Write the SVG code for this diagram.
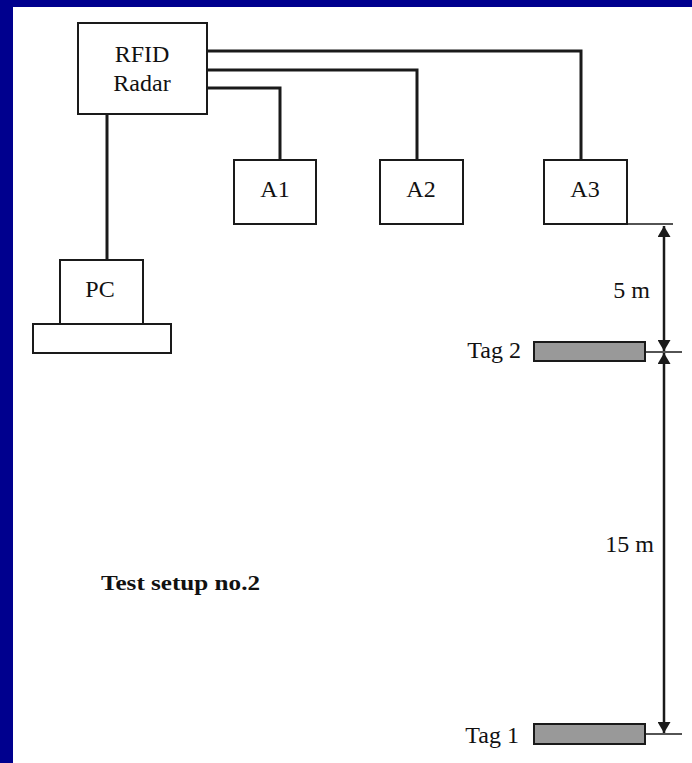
<svg xmlns="http://www.w3.org/2000/svg" width="692" height="763" viewBox="0 0 692 763">
<style>
.box{fill:#fff;stroke:#1a1a1a;stroke-width:2}
.tag{fill:#999;stroke:#1a1a1a;stroke-width:2}
.wire{fill:none;stroke:#1a1a1a;stroke-width:3}
.dim{fill:none;stroke:#1a1a1a;stroke-width:2.5}
.ext{fill:none;stroke:#1a1a1a;stroke-width:1.5}
.t{font-family:"Liberation Serif","Times New Roman",serif;font-size:24px;fill:#111}
.c{text-anchor:middle}
.e{text-anchor:end}
.b{font-weight:bold;font-size:22px}
</style>
<defs>
<marker id="ah" markerUnits="userSpaceOnUse" markerWidth="11" markerHeight="13" refX="11" refY="6.5" orient="auto-start-reverse">
<path d="M0,0 L11,6.5 L0,13 z" fill="#1a1a1a"/>
</marker>
</defs>
<rect x="0" y="0" width="692" height="763" fill="#00008E"/>
<rect x="13" y="7" width="679" height="756" fill="#fff"/>
<g id="connectors">
<path class="wire" d="M207,51 H581 V160"/>
<path class="wire" d="M207,70 H417 V160"/>
<path class="wire" d="M207,88 H280 V160"/>
<path class="wire" d="M107,114 V260"/>
<path class="ext" d="M627,224 H673"/>
<path class="ext" d="M645,352 H682"/>
<path class="ext" d="M645,734 H682"/>
<path class="dim" d="M664,226 V351" marker-start="url(#ah)" marker-end="url(#ah)"/>
<path class="dim" d="M664,353 V733" marker-start="url(#ah)" marker-end="url(#ah)"/>
</g>
<g id="rfid">
<rect class="box" x="78" y="23" width="129" height="91"/>
<text class="t c" x="142" y="62">RFID</text>
<text class="t c" x="142" y="91">Radar</text>
</g>
<g id="a1">
<rect class="box" x="234" y="160" width="82" height="64"/>
<text class="t c" x="275" y="197">A1</text>
</g>
<g id="a2">
<rect class="box" x="380" y="160" width="83" height="64"/>
<text class="t c" x="421" y="197">A2</text>
</g>
<g id="a3">
<rect class="box" x="544" y="160" width="83" height="64"/>
<text class="t c" x="585" y="197">A3</text>
</g>
<g id="pc">
<rect class="box" x="60" y="260" width="83" height="64"/>
<rect class="box" x="33" y="324" width="138" height="29"/>
<text class="t c" x="100" y="297">PC</text>
</g>
<g id="tag2">
<rect class="tag" x="534" y="342" width="111" height="19"/>
<text class="t e" x="521" y="358">Tag 2</text>
</g>
<g id="tag1">
<rect class="tag" x="534" y="724" width="111" height="20"/>
<text class="t e" x="519" y="743">Tag 1</text>
</g>
<g id="labels">
<text class="t e" x="650" y="298">5 m</text>
<text class="t e" x="654" y="552">15 m</text>
<text class="t b" x="101" y="590" textLength="159" lengthAdjust="spacingAndGlyphs">Test setup no.2</text>
</g>
</svg>
